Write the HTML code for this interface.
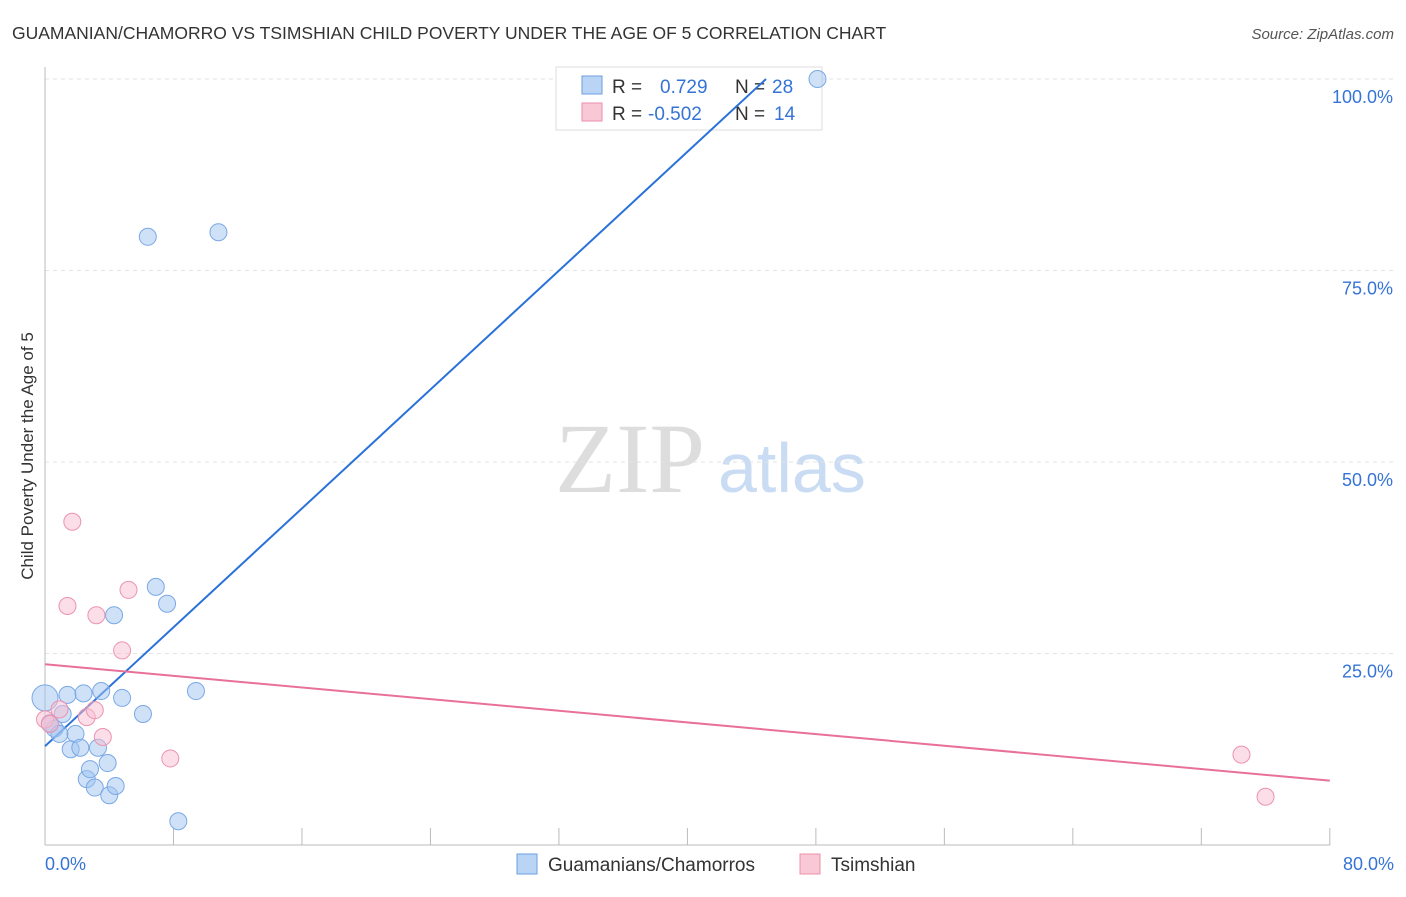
<!DOCTYPE html>
<html><head><meta charset="utf-8"><style>
body{margin:0;background:#fff;font-family:"Liberation Sans",sans-serif;}
svg text{font-family:"Liberation Sans",sans-serif;}
</style></head><body>
<svg id="chart" width="1406" height="892">
<text x="12" y="39" font-size="17.5" fill="#333">GUAMANIAN/CHAMORRO VS TSIMSHIAN CHILD POVERTY UNDER THE AGE OF 5 CORRELATION CHART</text>
<text x="1394" y="39" font-size="15" fill="#555" font-style="italic" text-anchor="end">Source: ZipAtlas.com</text>
<text x="555" y="492" font-size="100" fill="#ddd" style="font-family:'Liberation Serif',serif">ZIP</text>
<text x="718" y="492" font-size="70" fill="#c9dcf3">atlas</text>
<g id="grid"></g>
<g id="axes"></g>
<g>
<rect x="556" y="67" width="266" height="63" fill="#fff" stroke="#ddd"/>
<rect x="582" y="76" width="20" height="18" fill="#b9d4f5" stroke="#6a9fe0"/>
<rect x="582" y="103" width="20" height="18" fill="#f9c8d6" stroke="#ec8fab"/>
<text x="612" y="93" font-size="19" fill="#333">R = </text><text x="660" y="93" font-size="19" fill="#3574d6">0.729</text>
<text x="735" y="93" font-size="19" fill="#333">N = </text><text x="772" y="93" font-size="19" fill="#3574d6">28</text>
<text x="612" y="120" font-size="19" fill="#333">R = </text><text x="648" y="120" font-size="19" fill="#3574d6">-0.502</text>
<text x="735" y="120" font-size="19" fill="#333">N = </text><text x="774" y="120" font-size="19" fill="#3574d6">14</text>
</g>
<g id="lines"></g>
<g id="pts"></g>
<text x="33" y="456" font-size="17" fill="#333" text-anchor="middle" transform="rotate(-90 33 456)">Child Poverty Under the Age of 5</text>
<g>
<rect x="517" y="854" width="20" height="20" fill="#b9d4f5" stroke="#6a9fe0"/>
<text x="548" y="871" font-size="19" fill="#333">Guamanians/Chamorros</text>
<rect x="800" y="854" width="20" height="20" fill="#f9c8d6" stroke="#ec8fab"/>
<text x="831" y="871" font-size="19" fill="#333">Tsimshian</text>
</g>
</svg>
<script>
const blueX=[0,0.6,0.3,0.9,1.1,1.4,1.6,1.9,2.2,2.4,2.6,2.8,3.1,3.3,3.5,3.9,4.0,4.3,4.4,4.8,6.1,6.4,6.9,7.6,8.3,9.4,10.8,48.1];
const blueY=[19.2,15.2,15.9,14.5,17.1,19.6,12.5,14.5,12.7,19.8,8.6,9.9,7.5,12.7,20.1,10.7,6.5,30.0,7.7,19.2,17.1,79.4,33.7,31.5,3.1,20.1,80.0,100.0];
const pinkX=[0,0.3,0.9,1.4,1.7,2.6,3.1,3.2,3.6,4.8,5.2,7.8,74.5,76.0];
const pinkY=[16.4,15.8,17.7,31.2,42.2,16.7,17.6,30.0,14.1,25.4,33.3,11.3,11.8,6.3];
const xTicks=[0,80];const yTicks=[25,50,75,100];
const blueFit=[12.9,1.94];const pinkFit=[23.6,-0.19];
const NS='http://www.w3.org/2000/svg';
const X=v=>45+v*16.06, Y=v=>845-v*7.66;
function mk(p,t,a){const e=document.createElementNS(NS,t);for(const k in a)e.setAttribute(k,a[k]);document.getElementById(p).appendChild(e);return e;}
yTicks.forEach(t=>{const l=mk('grid','line',{x1:45,x2:1394,y1:Y(t),y2:Y(t),stroke:'#e3e3e3','stroke-dasharray':'4,4'});


const tx=mk('grid','text',{x:1393,y:Y(t)+24,'font-size':18,fill:'#3574d6','text-anchor':'end'});tx.textContent=t.toFixed(1)+'%';

});
const ya=mk('axes','line',{x1:45,x2:45,y1:67,y2:845,stroke:'#bbb'});


const xa=mk('axes','line',{x1:45,x2:1330,y1:845,y2:845,stroke:'#bbb'});


for(let i=0;i<=10;i++){const t=mk('axes','line',{x1:X(i*8),x2:X(i*8),y1:828,y2:845,stroke:'#bbb'});

}
xTicks.forEach((t,i)=>{const tx=mk('axes','text',{x:i?1394:45,y:870,'font-size':18,fill:'#3574d6','text-anchor':i?'end':'start'});tx.textContent=t.toFixed(1)+'%';

});
const bx2=(100-blueFit[0])/blueFit[1];
const bl=mk('lines','line',{x1:X(0),y1:Y(blueFit[0]),x2:X(bx2),y2:Y(100),stroke:'#2a72d9','stroke-width':2});


const pl=mk('lines','line',{x1:X(0),y1:Y(pinkFit[0]),x2:X(80),y2:Y(pinkFit[0]+80*pinkFit[1]),stroke:'#e8709a','stroke-width':2});


blueX.forEach((v,i)=>{const c=mk('pts','circle',{cx:X(v),cy:Y(blueY[i]),r:i==0?13:8.5,fill:'rgba(160,195,240,0.5)',stroke:'#7aa8e6','stroke-width':1});

});
pinkX.forEach((v,i)=>{const c=mk('pts','circle',{cx:X(v),cy:Y(pinkY[i]),r:8.5,fill:'rgba(248,190,210,0.5)',stroke:'#ec93b0','stroke-width':1});

});
</script>
</body></html>
